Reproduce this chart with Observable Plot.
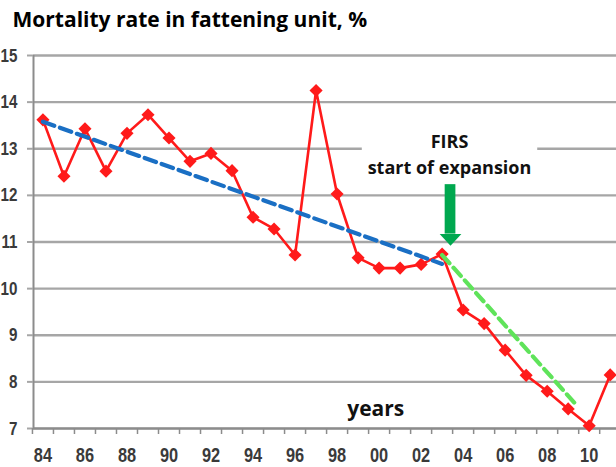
<!DOCTYPE html>
<html>
<head>
<meta charset="utf-8">
<script src="https://cdn.jsdelivr.net/npm/d3@7"></script>
<script src="https://cdn.jsdelivr.net/npm/@observablehq/plot@0.6"></script>
<style>
  html, body { margin: 0; padding: 0; background: #ffffff; }
  #chart { width: 616px; height: 467px; overflow: hidden; }
</style>
</head>
<body>
<div id="chart"></div>
<script>
// ---- data ----
const years = [1984, 1985, 1986, 1987, 1988, 1989, 1990, 1991, 1992, 1993, 1994, 1995, 1996, 1997,
               1998, 1999, 2000, 2001, 2002, 2003, 2004, 2005, 2006, 2007, 2008, 2009, 2010, 2011];
const mortality = [13.62, 12.41, 13.43, 12.52, 13.33, 13.73, 13.23, 12.73, 12.90, 12.53, 11.53, 11.28, 10.72, 14.25,
                   12.03, 10.66, 10.44, 10.44, 10.52, 10.74, 9.54, 9.25, 8.68, 8.14, 7.80, 7.42, 7.06, 8.15];
const blueTrendYears = [1984, 2003];
const blueTrendValues = [13.58, 10.53];
const greenTrendYears = [2003, 2009.4];
const greenTrendValues = [10.72, 7.5];
const yTicks = [7, 8, 9, 10, 11, 12, 13, 14, 15];
const xLabelYears = [1984, 1986, 1988, 1990, 1992, 1994, 1996, 1998, 2000, 2002, 2004, 2006, 2008, 2010];
const xMinorTicks = d3.range(1983.5, 2011, 1);
const titleText = "Mortality rate in fattening unit, %";
const annotationText = "FIRS\nstart of expansion";
const xAxisTitle = "years";

// annotation anchors (data units)
const firsYear = 2003.4;
const firsBox = {x1: 1999.2, x2: 2007.55, y1: 12.25, y2: 13.5};
const arrowShaft = {x1: firsYear - 0.255, x2: firsYear + 0.255, y1: 11.17, y2: 12.23};
const arrowHead = [{x: firsYear - 0.516, y: 11.17}, {x: firsYear + 0.516, y: 11.17}, {x: firsYear, y: 10.92}];

const series = years.map((y, i) => ({year: y, value: mortality[i]}));
const blueTrend = blueTrendYears.map((y, i) => ({year: y, value: blueTrendValues[i]}));
const greenTrend = greenTrendYears.map((y, i) => ({year: y, value: greenTrendValues[i]}));

const tickFont = "'Liberation Sans', Arial, sans-serif";
const humanist = "'Open Sans', 'Noto Sans', sans-serif";
const gridColor = "#a6a6a6";
const tickTextColor = "#3a3a3a";

const chart = Plot.plot({
  width: 616,
  height: 467,
  marginTop: 55,
  marginBottom: 39,
  marginLeft: 33,
  marginRight: 0,
  style: {background: "#ffffff", overflow: "visible"},
  x: {domain: [1983.55, 2011.3]},
  y: {domain: [7, 15]},
  marks: [
    Plot.gridY(yTicks, {stroke: gridColor, strokeOpacity: 1, strokeWidth: 2.3}),
    Plot.ruleX([1983.55], {stroke: "#8c8c8c", strokeWidth: 2}),
    Plot.ruleY([7], {stroke: "#8c8c8c", strokeWidth: 2}),
    Plot.axisY({ticks: yTicks, tickSize: 6, tickPadding: 10, stroke: gridColor, strokeWidth: 2,
                fill: tickTextColor, fontSize: 19, fontWeight: "bold", fontFamily: tickFont, label: null}),
    Plot.axisX({ticks: xMinorTicks, tickSize: 6, tickFormat: () => "", stroke: "#8c8c8c", strokeWidth: 1.5, label: null}),
    Plot.axisX({ticks: xLabelYears, tickSize: 0, tickPadding: 19,
                tickFormat: d => String(d % 100).padStart(2, "0"),
                fill: tickTextColor, fontSize: 21, fontWeight: "bold", fontFamily: tickFont, label: null}),
    Plot.rect([firsBox], {x1: "x1", x2: "x2", y1: "y1", y2: "y2", fill: "#ffffff"}),
    Plot.line(series, {x: "year", y: "value", stroke: "#ff1a1a", strokeWidth: 2.6}),
    Plot.dot(series, {x: "year", y: "value", symbol: "diamond2", r: 5.9, fill: "#ff1a1a", stroke: "none"}),
    Plot.line(blueTrend, {x: "year", y: "value", stroke: "#1a6fc4", strokeWidth: 4.2, strokeDasharray: "12,6"}),
    Plot.line(greenTrend, {x: "year", y: "value", stroke: "#5fe35a", strokeWidth: 4.2, strokeDasharray: "11,6"}),
    Plot.rect([arrowShaft], {x1: "x1", x2: "x2", y1: "y1", y2: "y2", fill: "#00a84f"}),
    Plot.line(arrowHead, {x: "x", y: "y", fill: "#00a84f", stroke: "none"}),
    Plot.text([annotationText], {x: firsYear - 0.05, y: 12.46, lineAnchor: "bottom", textAnchor: "middle",
                lineHeight: 1.45, fontSize: 18, fontWeight: "bold", fontFamily: humanist, fill: "#111111"}),
    Plot.text([xAxisTitle], {x: 1999.84, y: 7.27, lineAnchor: "bottom", textAnchor: "middle",
                fontSize: 21, fontWeight: "bold", fontFamily: humanist, fill: "#111111"}),
    Plot.text([titleText], {frameAnchor: "top-left", dx: -21, dy: -28.3, lineAnchor: "bottom", textAnchor: "start",
                fontSize: 21, fontWeight: "bold", fontFamily: humanist, fill: "#000000"})
  ]
});

// condense the tick labels horizontally (the reference uses a narrow face)
function condense(selector, sx) {
  chart.querySelectorAll(selector).forEach(t => {
    const tr = t.getAttribute("transform") || "";
    t.setAttribute("transform", tr + ` scale(${sx},1)`);
  });
}
condense('g[aria-label="y-axis tick label"] text', 0.8);
condense('g[aria-label="x-axis tick label"] text', 0.78);

document.getElementById("chart").appendChild(chart);
</script>
</body>
</html>
